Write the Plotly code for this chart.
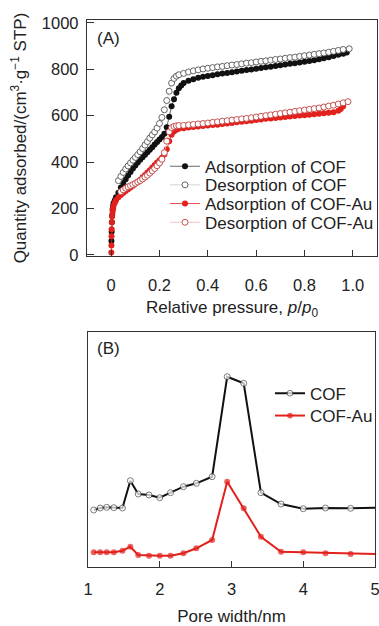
import plotly.graph_objects as go

# ---------- Panel A: N2 isotherms ----------
p_ads_cof = [0.001, 0.002, 0.003, 0.004, 0.006, 0.008, 0.010, 0.015, 0.02, 0.03, 0.04, 0.05, 0.06, 0.07, 0.08,
             0.09, 0.10, 0.11, 0.12, 0.13, 0.14, 0.15, 0.16, 0.17, 0.18, 0.19, 0.20, 0.21, 0.22, 0.23,
             0.24, 0.25, 0.26, 0.27, 0.28, 0.29, 0.30, 0.32, 0.34, 0.36, 0.38, 0.40, 0.42, 0.44, 0.46,
             0.48, 0.50, 0.52, 0.54, 0.56, 0.58, 0.60, 0.62, 0.64, 0.66, 0.68, 0.70, 0.72, 0.74, 0.76,
             0.78, 0.80, 0.82, 0.84, 0.86, 0.88, 0.90, 0.92, 0.94, 0.96, 0.975]
q_ads_cof = [60, 100, 140, 170, 195, 210, 222, 235, 248, 268, 290, 310, 326, 342, 357,
             372, 385, 398, 410, 421, 431, 442, 453, 464, 475, 486, 497, 508, 522, 550,
             595, 640, 670, 698, 718, 730, 740, 750, 757, 763, 767, 771, 774, 778, 781,
             784, 787, 790, 793, 796, 799, 802, 805, 808, 811, 814, 817, 820, 823, 826,
             829, 832, 835, 839, 843, 847, 852, 857, 862, 867, 872]

p_des_cof = [0.03, 0.04, 0.05, 0.06, 0.07, 0.08, 0.09, 0.10, 0.11, 0.12, 0.13, 0.14, 0.15, 0.16,
             0.17, 0.18, 0.19, 0.20, 0.21, 0.22, 0.23, 0.24, 0.25, 0.26, 0.27, 0.28, 0.30, 0.32,
             0.34, 0.36, 0.38, 0.40, 0.42, 0.44, 0.46, 0.48, 0.50, 0.52, 0.54, 0.56, 0.58, 0.60,
             0.62, 0.64, 0.66, 0.68, 0.70, 0.72, 0.74, 0.76, 0.78, 0.80, 0.82, 0.84, 0.86, 0.88,
             0.90, 0.92, 0.94, 0.96, 0.985]
q_des_cof = [320, 338, 355, 370, 383, 396, 408, 420, 432, 444, 458, 473, 488, 503,
             517, 530, 546, 566, 592, 625, 665, 705, 740, 760, 770, 776, 782, 788,
             793, 797, 801, 804, 807, 810, 812, 815, 818, 820, 823, 826, 828, 831,
             834, 836, 839, 842, 844, 847, 850, 852, 855, 858, 861, 864, 867, 870,
             873, 877, 881, 885, 888]

p_ads_au = [0.0005, 0.001, 0.0015, 0.002, 0.003, 0.004, 0.006, 0.008, 0.01, 0.015, 0.02, 0.03, 0.04,
            0.05, 0.06, 0.07, 0.08, 0.09, 0.10, 0.11, 0.12, 0.13, 0.14, 0.15, 0.16, 0.17, 0.18,
            0.19, 0.20, 0.21, 0.22, 0.23, 0.24, 0.25, 0.26, 0.27, 0.28, 0.30, 0.32, 0.34, 0.36,
            0.38, 0.40, 0.42, 0.44, 0.46, 0.48, 0.50, 0.52, 0.54, 0.56, 0.58, 0.60, 0.62, 0.64,
            0.66, 0.68, 0.70, 0.72, 0.74, 0.76, 0.78, 0.80, 0.82, 0.84, 0.86, 0.88, 0.90, 0.92,
            0.94, 0.95, 0.96]
q_ads_au = [10, 40, 80, 110, 140, 165, 185, 200, 212, 225, 235, 248, 258,
            267, 275, 283, 290, 298, 306, 315, 324, 334, 344, 355, 365, 376, 387,
            398, 408, 418, 432, 455, 490, 518, 532, 539, 543, 546, 549, 551, 553,
            555, 557, 559, 561, 564, 566, 568, 571, 573, 576, 578, 581, 583, 586,
            588, 590, 592, 594, 596, 598, 600, 602, 604, 606, 608, 610, 612, 615,
            621, 628, 640]

p_des_au = [0.04, 0.05, 0.06, 0.07, 0.08, 0.09, 0.10, 0.11, 0.12, 0.13, 0.14, 0.15, 0.16,
            0.17, 0.18, 0.19, 0.20, 0.21, 0.22, 0.23, 0.24, 0.25, 0.26, 0.27, 0.28, 0.30,
            0.32, 0.34, 0.36, 0.38, 0.40, 0.42, 0.44, 0.46, 0.48, 0.50, 0.52, 0.54, 0.56,
            0.58, 0.60, 0.62, 0.64, 0.66, 0.68, 0.70, 0.72, 0.74, 0.76, 0.78, 0.80, 0.82,
            0.84, 0.86, 0.88, 0.90, 0.92, 0.94, 0.96, 0.98]
q_des_au = [272, 280, 287, 293, 298, 303, 308, 314, 320, 327, 335, 343, 352,
            362, 372, 384, 396, 412, 440, 490, 530, 548, 553, 556, 557, 558,
            560, 562, 564, 566, 568, 571, 573, 576, 578, 581, 583, 586, 588,
            591, 594, 597, 600, 603, 606, 609, 612, 615, 618, 621, 624, 627,
            630, 633, 637, 641, 645, 650, 655, 660]

a_xticks = [0, 0.2, 0.4, 0.6, 0.8, 1.0]
a_xticktext = ["0", "0.2", "0.4", "0.6", "0.8", "1.0"]
a_yticks = [0, 200, 400, 600, 800, 1000]

# ---------- Panel B: pore size distribution ----------
pore_width = [1.08, 1.17, 1.26, 1.36, 1.48, 1.59, 1.70, 1.85, 2.00, 2.15, 2.33, 2.51, 2.73,
              2.94, 3.17, 3.41, 3.69, 4.00, 4.31, 4.66, 5.00]
dist_cof = [57, 59, 59.7, 59.3, 59, 86.3, 73, 72, 69.3, 74.3, 80.3, 83.7, 90.3,
            190.3, 183.7, 74.3, 63, 58.3, 59, 58.7, 59.3]
dist_au = [14.7, 14.7, 14.7, 14.7, 16.3, 20.3, 12, 11.3, 11.3, 11.3, 13.7, 18.7, 27,
           85.3, 58.7, 30.3, 15.3, 14.7, 13.7, 13, 13]
b_xticks = [1, 2, 3, 4, 5]

RED = "#e3211c"
BLACK = "#111111"
FONT = "Arial, Liberation Sans, sans-serif"
TXT = "#222222"
W, H = 379, 626

fig = go.Figure()

ms_a = 6
fig.add_trace(go.Scatter(x=p_ads_cof, y=q_ads_cof, mode="lines+markers", name="Adsorption of COF",
                         line=dict(color="#444444", width=0.8), showlegend=True,
                         marker=dict(symbol="circle", size=ms_a, color=BLACK, line=dict(width=0)),
                         xaxis="x", yaxis="y", legend="legend"))
fig.add_trace(go.Scatter(x=p_des_cof, y=q_des_cof, mode="lines+markers", name="Desorption of COF",
                         line=dict(color="#c8c8c8", width=0.8), showlegend=True,
                         marker=dict(symbol="circle", size=ms_a, color="white", line=dict(width=0.9, color="#555555")),
                         xaxis="x", yaxis="y", legend="legend2"))
fig.add_trace(go.Scatter(x=p_ads_au, y=q_ads_au, mode="lines+markers", name="Adsorption of COF-Au",
                         line=dict(color=RED, width=0.8), showlegend=True,
                         marker=dict(symbol="circle", size=ms_a, color=RED, line=dict(width=0)),
                         xaxis="x", yaxis="y", legend="legend3"))
fig.add_trace(go.Scatter(x=p_des_au, y=q_des_au, mode="lines+markers", name="Desorption of COF-Au",
                         line=dict(color="#f2b0b0", width=0.8), showlegend=True,
                         marker=dict(symbol="circle", size=ms_a, color="white", line=dict(width=0.9, color="#c04040")),
                         xaxis="x", yaxis="y", legend="legend4"))

sizes_b = [6] * (len(pore_width) - 1) + [0]
fig.add_trace(go.Scatter(x=pore_width, y=dist_cof, mode="lines+markers", name="COF", showlegend=True,
                         line=dict(color=BLACK, width=2),
                         marker=dict(symbol="circle", size=sizes_b, color="white", line=dict(width=1, color="#444444")),
                         xaxis="x2", yaxis="y2", legend="legend5"))
fig.add_trace(go.Scatter(x=pore_width, y=dist_au, mode="lines+markers", name="COF-Au", showlegend=True,
                         line=dict(color=RED, width=2),
                         marker=dict(symbol="circle", size=sizes_b, color=RED, line=dict(width=0)),
                         xaxis="x2", yaxis="y2", legend="legend6"))

axis_common = dict(showline=True, mirror=True, linecolor="#333333", linewidth=1.3,
                   showgrid=False, zeroline=False, tickcolor="#333333", automargin=False,
                   ticklabeloverflow="allow",
                   tickfont=dict(family=FONT, size=16.5, color=TXT))
title_font = dict(family=FONT, size=17, color=TXT)


def leg(x_px, row_center_px, size):
    return dict(x=x_px / W, y=1 - (row_center_px - 17) / H, xanchor="left", yanchor="top",
                bgcolor="rgba(0,0,0,0)", font=dict(family=FONT, size=size, color=TXT), itemwidth=30)


fig.update_layout(
    width=W, height=H, margin=dict(l=0, r=0, t=0, b=0),
    paper_bgcolor="white", plot_bgcolor="white", showlegend=True,
    font=dict(family=FONT, size=16, color=TXT),
    xaxis=dict(domain=[87 / W, 377 / W], range=[-0.1, 1.1], tickvals=a_xticks, ticktext=a_xticktext,
               ticks="inside", ticklen=6, anchor="y", ticklabelstandoff=14,
               title=dict(text="Relative pressure, <i>p</i>/<i>p</i><sub>0</sub>", standoff=8,
                          font=title_font), **axis_common),
    yaxis=dict(domain=[(H - 256) / H, (H - 20) / H], range=[-5, 1012], tickvals=a_yticks,
               ticks="inside", ticklen=7, anchor="x", ticklabelstandoff=4,
               title=dict(text="Quantity adsorbed/(cm<sup>3</sup>·g<sup>−1</sup> STP)", standoff=10,
                          font=title_font), **axis_common),
    xaxis2=dict(domain=[88 / W, 375 / W], range=[1, 5], tickvals=b_xticks, ticks="inside", ticklen=6,
                anchor="y2", ticklabelstandoff=7,
                title=dict(text="Pore width/nm", standoff=23, font=title_font),
                **axis_common),
    yaxis2=dict(domain=[(H - 567) / H, (H - 332) / H], range=[0, 235], showticklabels=False,
                ticks="", anchor="x2", **axis_common),
    legend=leg(165, 165.7, 17),
    legend2=leg(165, 184.3, 17),
    legend3=leg(165, 203.0, 17),
    legend4=leg(165, 221.7, 17),
    legend5=leg(270, 392.7, 17),
    legend6=leg(270, 415.0, 17),
    annotations=[
        dict(text="(A)", x=95 / W, y=1 - 38 / H, xref="paper", yref="paper", xanchor="left",
             yanchor="middle", showarrow=False, font=dict(family=FONT, size=17, color=TXT)),
        dict(text="(B)", x=95 / W, y=1 - 348 / H, xref="paper", yref="paper", xanchor="left",
             yanchor="middle", showarrow=False, font=dict(family=FONT, size=17, color=TXT)),
    ],
)

fig.write_html("out.html", config={"displayModeBar": False},
               post_script="document.body.style.margin='0';document.body.style.padding='0';")
